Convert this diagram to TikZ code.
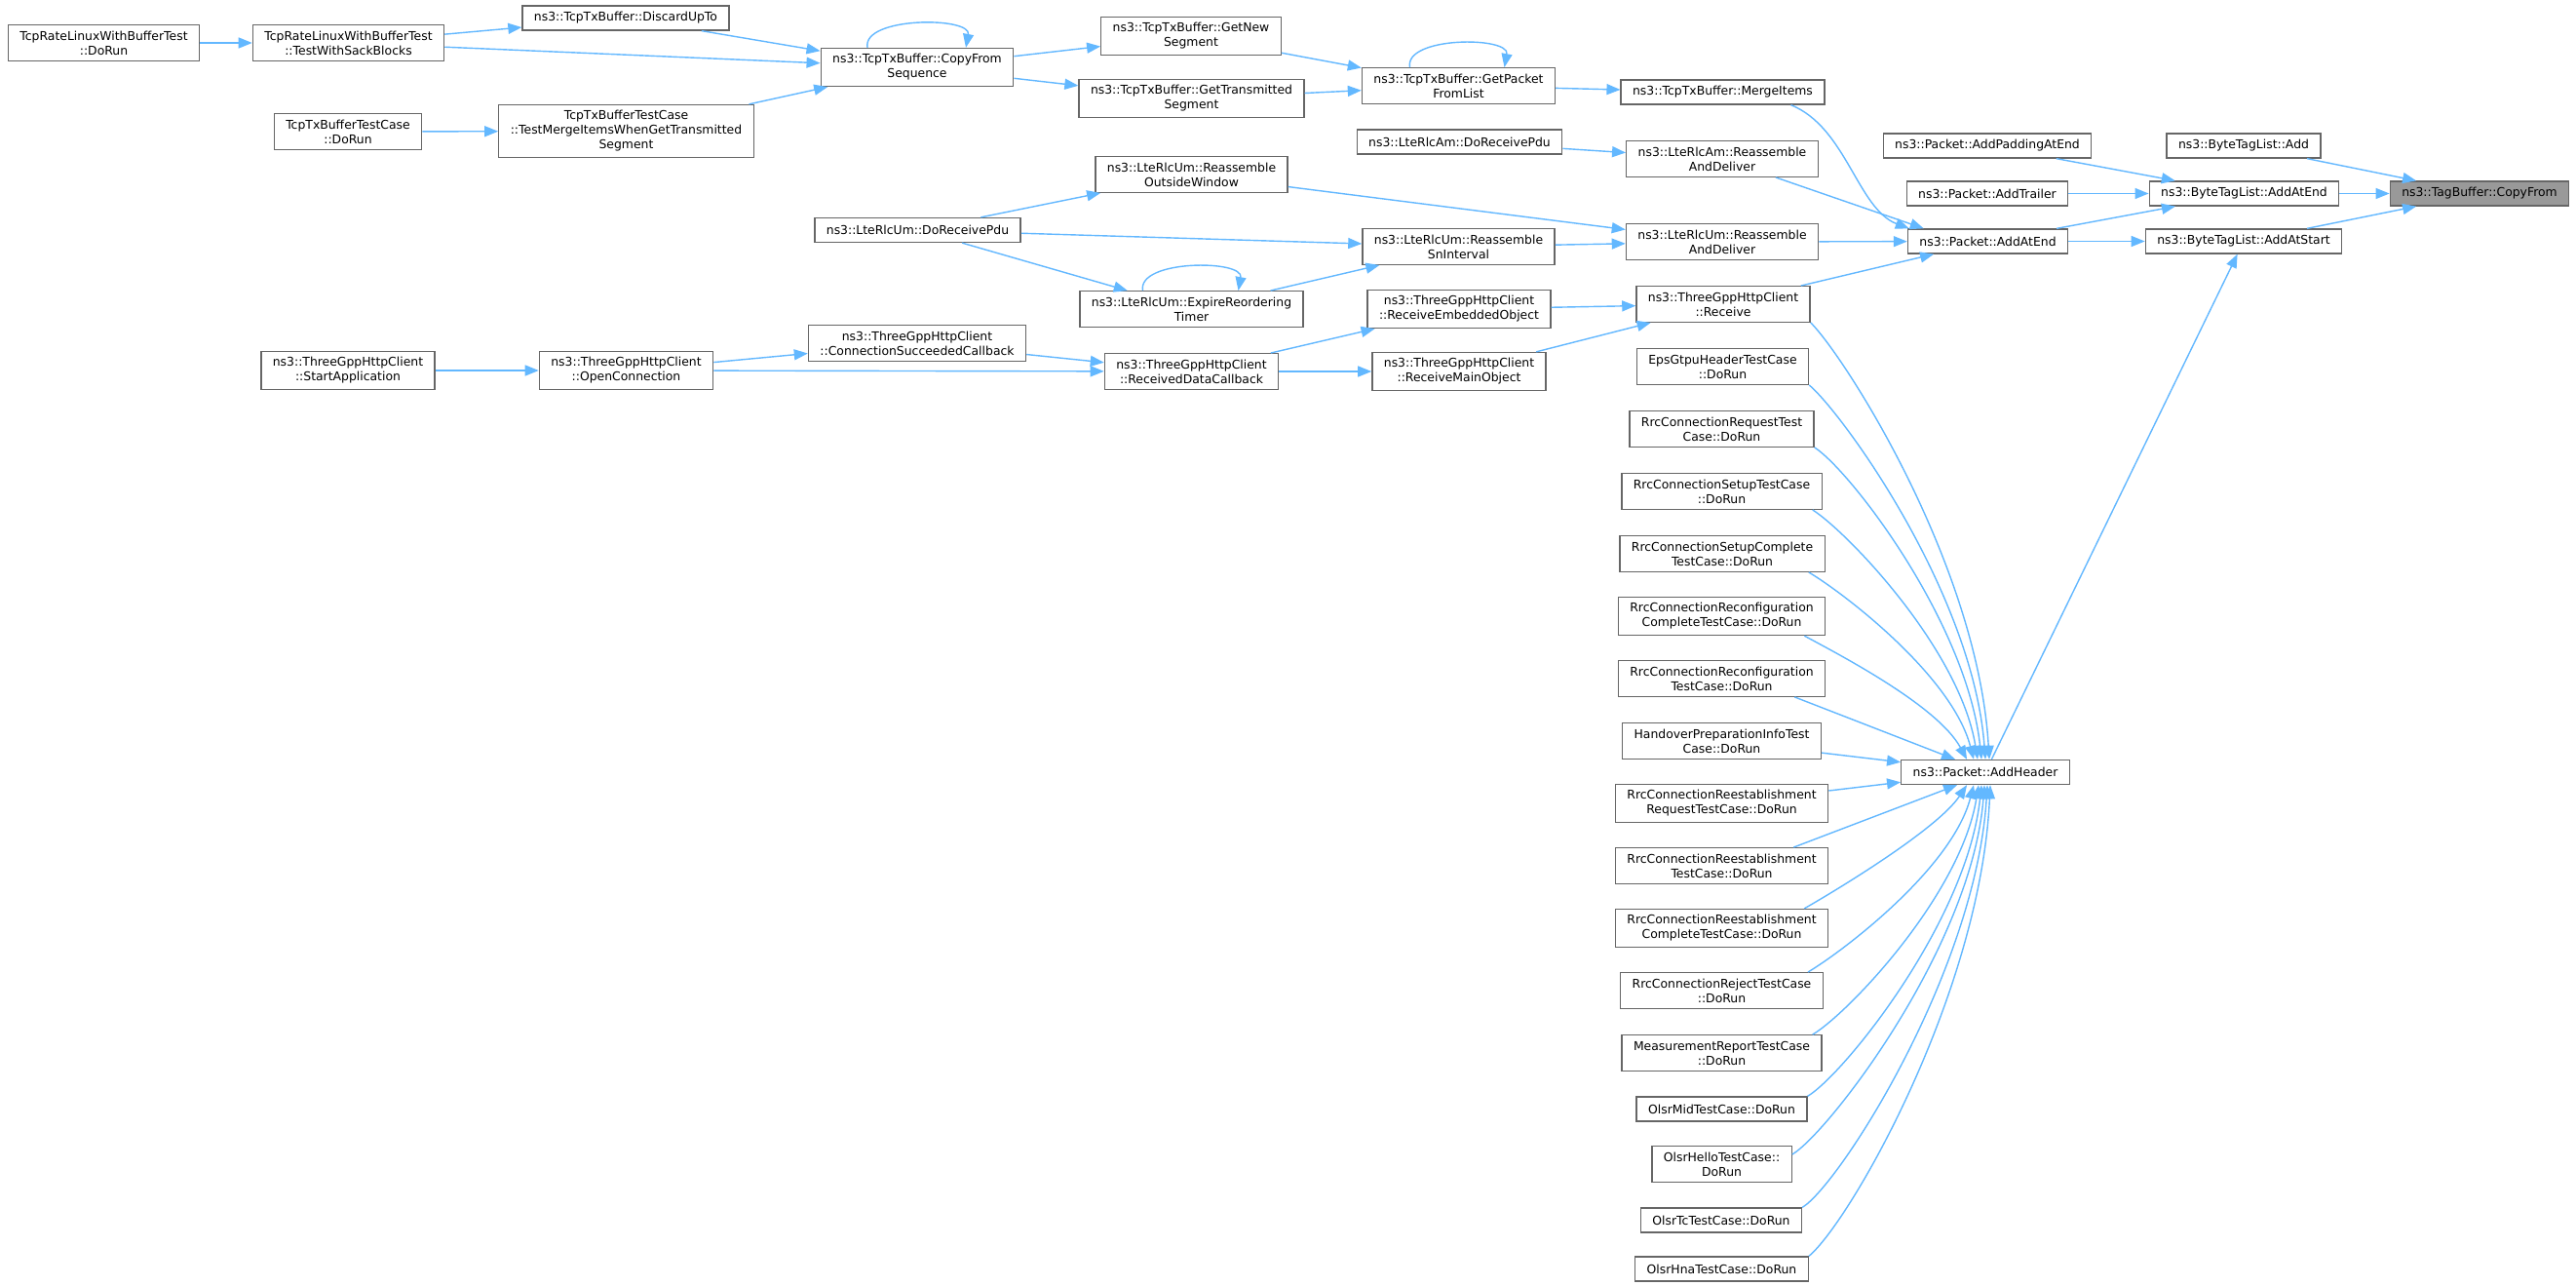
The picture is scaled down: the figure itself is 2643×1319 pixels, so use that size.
\documentclass[tikz,border=0pt]{standalone}
\usepackage{fontspec}
\setmainfont{DejaVu Sans}
\usetikzlibrary{arrows.meta}

\definecolor{edgeblue}{HTML}{63B8FF}
\definecolor{boxline}{HTML}{666666}
\definecolor{rootfill}{HTML}{999999}

\tikzset{
  fnbox/.style={draw=boxline, fill=white, line width=1.3pt, align=center,
    inner xsep=12pt, inner ysep=6pt, minimum height=25pt,
    font=\fontsize{12.4}{15}\selectfont},
  rootbox/.style={fnbox, fill=rootfill},
  call/.style={draw=edgeblue, line width=1.4pt, -{Triangle[length=14pt,width=11pt]}}
}

\begin{document}
\begin{tikzpicture}[x=1pt, y=-1pt]
    \path[fill=white, use as bounding box] (0, 0) rectangle (2643, 1319);

    % Tcp tx buffer callers
    \node[fnbox] (rateDoRun) at (106.5, 44) {TcpRateLinuxWithBufferTest\\::DoRun};
    \node[fnbox] (sackBlocks) at (357.5, 44) {TcpRateLinuxWithBufferTest\\::TestWithSackBlocks};
    \node[fnbox] (discardUpTo) at (642, 18.5) {ns3::TcpTxBuffer::DiscardUpTo};
    \node[fnbox] (txTestDoRun) at (357, 135) {TcpTxBufferTestCase\\::DoRun};
    \node[fnbox] (mergeWhenGet) at (642.5, 134.5) {TcpTxBufferTestCase\\::TestMergeItemsWhenGetTransmitted\\Segment};
    \node[fnbox] (copyFromSeq) at (941, 69) {ns3::TcpTxBuffer::CopyFrom\\Sequence};
    \node[fnbox] (getNewSeg) at (1222, 37) {ns3::TcpTxBuffer::GetNew\\Segment};
    \node[fnbox] (getTransSeg) at (1222.5, 101) {ns3::TcpTxBuffer::GetTransmitted\\Segment};
    \node[fnbox] (getPktList) at (1496.5, 88) {ns3::TcpTxBuffer::GetPacket\\FromList};
    \node[fnbox] (mergeItems) at (1767.5, 94.5) {ns3::TcpTxBuffer::MergeItems};

    % Lte rlc callers
    \node[fnbox] (amDoRecv) at (1497.5, 145.5) {ns3::LteRlcAm::DoReceivePdu};
    \node[fnbox] (amReassemble) at (1767, 163) {ns3::LteRlcAm::Reassemble\\AndDeliver};
    \node[fnbox] (outsideWindow) at (1222.5, 179) {ns3::LteRlcUm::Reassemble\\OutsideWindow};
    \node[fnbox] (umDoRecv) at (941.5, 236) {ns3::LteRlcUm::DoReceivePdu};
    \node[fnbox] (snInterval) at (1496.5, 253) {ns3::LteRlcUm::Reassemble\\SnInterval};
    \node[fnbox] (umReassemble) at (1767, 248) {ns3::LteRlcUm::Reassemble\\AndDeliver};
    \node[fnbox] (expireTimer) at (1222.5, 317) {ns3::LteRlcUm::ExpireReordering\\Timer};

    % Http client callers
    \node[fnbox] (startApp) at (357, 380) {ns3::ThreeGppHttpClient\\::StartApplication};
    \node[fnbox] (openConn) at (642.5, 380) {ns3::ThreeGppHttpClient\\::OpenConnection};
    \node[fnbox] (connSucceeded) at (941, 352) {ns3::ThreeGppHttpClient\\::ConnectionSucceededCallback};
    \node[fnbox] (recvDataCb) at (1222.5, 381) {ns3::ThreeGppHttpClient\\::ReceivedDataCallback};
    \node[fnbox] (recvEmbedded) at (1497, 317) {ns3::ThreeGppHttpClient\\::ReceiveEmbeddedObject};
    \node[fnbox] (recvMain) at (1497, 381) {ns3::ThreeGppHttpClient\\::ReceiveMainObject};
    \node[fnbox] (receive) at (1768, 312) {ns3::ThreeGppHttpClient\\::Receive};

    % Test cases
    \node[fnbox] (epsGtpu) at (1767.5, 376) {EpsGtpuHeaderTestCase\\::DoRun};
    \node[fnbox] (rrcRequest) at (1766.5, 440) {RrcConnectionRequestTest\\Case::DoRun};
    \node[fnbox] (rrcSetup) at (1766.5, 504) {RrcConnectionSetupTestCase\\::DoRun};
    \node[fnbox] (rrcSetupDone) at (1767, 568) {RrcConnectionSetupComplete\\TestCase::DoRun};
    \node[fnbox] (rrcReconfDone) at (1766.5, 632) {RrcConnectionReconfiguration\\CompleteTestCase::DoRun};
    \node[fnbox] (rrcReconf) at (1766.5, 696) {RrcConnectionReconfiguration\\TestCase::DoRun};
    \node[fnbox] (handover) at (1766.5, 760) {HandoverPreparationInfoTest\\Case::DoRun};
    \node[fnbox] (reestRequest) at (1766.5, 824) {RrcConnectionReestablishment\\RequestTestCase::DoRun};
    \node[fnbox] (reest) at (1766.5, 888) {RrcConnectionReestablishment\\TestCase::DoRun};
    \node[fnbox] (reestDone) at (1766.5, 952) {RrcConnectionReestablishment\\CompleteTestCase::DoRun};
    \node[fnbox] (rrcReject) at (1766.5, 1016) {RrcConnectionRejectTestCase\\::DoRun};
    \node[fnbox] (measReport) at (1766.5, 1080) {MeasurementReportTestCase\\::DoRun};
    \node[fnbox] (olsrMid) at (1766.5, 1137.5) {OlsrMidTestCase::DoRun};
    \node[fnbox] (olsrHello) at (1766.5, 1194) {OlsrHelloTestCase::\\DoRun};
    \node[fnbox] (olsrTc) at (1766, 1251.5) {OlsrTcTestCase::DoRun};
    \node[fnbox] (olsrHna) at (1766.5, 1301.5) {OlsrHnaTestCase::DoRun};

    % Packet and tag list
    \node[fnbox] (addPadding) at (2039, 149.5) {ns3::Packet::AddPaddingAtEnd};
    \node[fnbox] (addTrailer) at (2039, 198.5) {ns3::Packet::AddTrailer};
    \node[fnbox] (pktAddAtEnd) at (2039.5, 247.5) {ns3::Packet::AddAtEnd};
    \node[fnbox] (addHeader) at (2037, 792) {ns3::Packet::AddHeader};
    \node[fnbox] (btlAdd) at (2302, 149.5) {ns3::ByteTagList::Add};
    \node[fnbox] (btlAddAtEnd) at (2302.5, 198.5) {ns3::ByteTagList::AddAtEnd};
    \node[fnbox] (btlAddAtStart) at (2302, 247.5) {ns3::ByteTagList::AddAtStart};
    \node[rootbox] (copyFrom) at (2544, 198.5) {ns3::TagBuffer::CopyFrom};

    % Tcp tx buffer calls
    \draw[call] (rateDoRun) -- (sackBlocks);
    \draw[call] (sackBlocks) -- (discardUpTo);
    \draw[call] (sackBlocks) -- (copyFromSeq);
    \draw[call] (discardUpTo) -- (copyFromSeq);
    \draw[call] (txTestDoRun) -- (mergeWhenGet);
    \draw[call] (mergeWhenGet) -- (copyFromSeq);
    \draw[call] ([xshift=-51pt]copyFromSeq.north) .. controls +(-6,-32) and +(6,-32) .. ([xshift=50pt]copyFromSeq.north);
    \draw[call] (copyFromSeq) -- (getNewSeg);
    \draw[call] (copyFromSeq) -- (getTransSeg);
    \draw[call] (getNewSeg) -- (getPktList);
    \draw[call] (getTransSeg) -- (getPktList);
    \draw[call] ([xshift=-50pt]getPktList.north) .. controls +(-6,-32) and +(6,-32) .. ([xshift=47pt]getPktList.north);
    \draw[call] (getPktList) -- (mergeItems);
    \draw[call] ([xshift=70pt]mergeItems.south) .. controls +(57,23) and +(-53,-20) .. ([xshift=2pt]pktAddAtEnd.north west);

    % Lte rlc calls
    \draw[call] (amDoRecv) -- (amReassemble);
    \draw[call] (amReassemble) -- ([xshift=17pt]pktAddAtEnd.north west);
    \draw[call] (umDoRecv) -- (outsideWindow);
    \draw[call] (umDoRecv) -- (snInterval);
    \draw[call] (umDoRecv) -- (expireTimer);
    \draw[call] ([xshift=-50pt]expireTimer.north) .. controls +(-6,-32) and +(6,-32) .. ([xshift=48pt]expireTimer.north);
    \draw[call] (expireTimer) -- (snInterval);
    \draw[call] (outsideWindow) -- (umReassemble);
    \draw[call] (snInterval) -- (umReassemble);
    \draw[call] (umReassemble) -- (pktAddAtEnd);

    % Http client calls
    \draw[call] (startApp) -- (openConn);
    \draw[call] (openConn) -- (connSucceeded);
    \draw[call] (openConn) -- (recvDataCb);
    \draw[call] (connSucceeded) -- (recvDataCb);
    \draw[call] (recvDataCb) -- (recvEmbedded);
    \draw[call] (recvDataCb) -- (recvMain);
    \draw[call] (recvEmbedded) -- (receive);
    \draw[call] (recvMain) -- (receive);
    \draw[call] (receive) -- (pktAddAtEnd);

    % Callers of AddHeader, from above
    \draw[call] (receive.south east) .. controls +(35,35) and +(-12,-200) .. ([xshift=91pt]addHeader.north west);
    \draw[call] (epsGtpu.south east) .. controls +(35,30) and +(-13,-170) .. ([xshift=87pt]addHeader.north west);
    \draw[call] (rrcRequest.south east) .. controls +(37,24) and +(-15,-140) .. ([xshift=83pt]addHeader.north west);
    \draw[call] ([xshift=-10pt]rrcSetup.south east) .. controls +(37,24) and +(-18,-112) .. ([xshift=79pt]addHeader.north west);
    \draw[call] ([xshift=-17pt]rrcSetupDone.south east) .. controls +(37,22) and +(-22,-85) .. ([xshift=75pt]addHeader.north west);
    \draw[call] ([xshift=-22pt]rrcReconfDone.south east) .. controls +(37,20) and +(-30,-55) .. ([xshift=68pt]addHeader.north west);
    \draw[call] ([xshift=-32pt]rrcReconf.south east) -- ([xshift=56pt]addHeader.north west);
    \draw[call] (handover) -- (addHeader);
    \draw[call] (reestRequest) -- (addHeader);

    % Callers of AddHeader, from below
    \draw[call] ([xshift=-36pt]reest.north east) -- ([xshift=58pt]addHeader.south west);
    \draw[call] ([xshift=-25pt]reestDone.north east) .. controls +(35,-20) and +(-30,45) .. ([xshift=68pt]addHeader.south west);
    \draw[call] ([xshift=-16pt]rrcReject.north east) .. controls +(37,-22) and +(-22,85) .. ([xshift=75pt]addHeader.south west);
    \draw[call] ([xshift=-10pt]measReport.north east) .. controls +(37,-22) and +(-18,112) .. ([xshift=80pt]addHeader.south west);
    \draw[call] (olsrMid.north east) .. controls +(37,-22) and +(-15,140) .. ([xshift=83pt]addHeader.south west);
    \draw[call] ([yshift=-9pt]olsrHello.north east) .. controls +(37,-22) and +(-13,166) .. ([xshift=86pt]addHeader.south west);
    \draw[call] (olsrTc.north east) .. controls +(37,-22) and +(-12,192) .. ([xshift=89pt]addHeader.south west);
    \draw[call] (olsrHna.north east) .. controls +(42,-35) and +(-10,214) .. ([xshift=92pt]addHeader.south west);

    % Packet and tag list calls
    \draw[call] (addPadding) -- (btlAddAtEnd);
    \draw[call] (addTrailer) -- (btlAddAtEnd);
    \draw[call] (pktAddAtEnd) -- (btlAddAtEnd);
    \draw[call] (pktAddAtEnd) -- (btlAddAtStart);
    \draw[call] (addHeader) -- (btlAddAtStart);
    \draw[call] (btlAdd) -- (copyFrom);
    \draw[call] (btlAddAtEnd) -- (copyFrom);
    \draw[call] (btlAddAtStart) -- (copyFrom);

\end{tikzpicture}
\end{document}
